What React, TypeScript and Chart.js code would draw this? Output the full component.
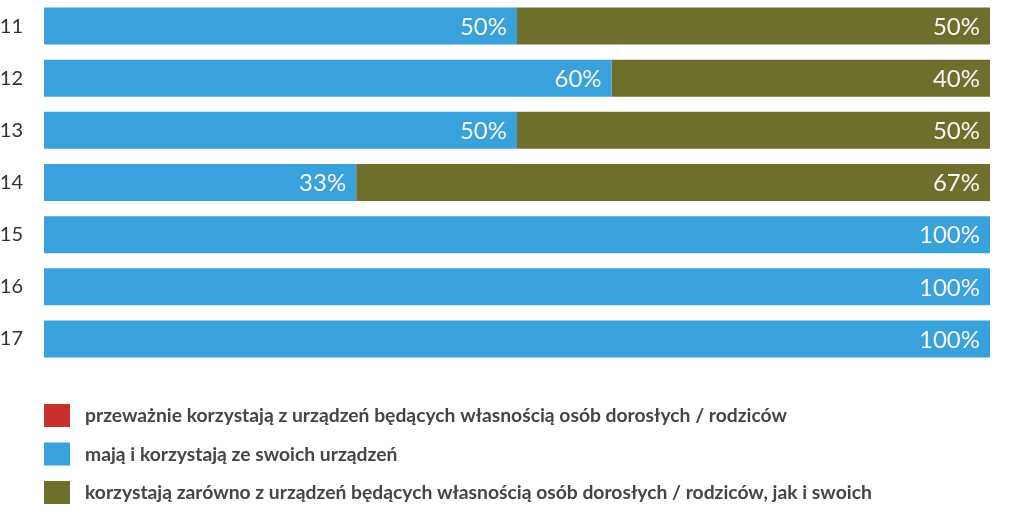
import React, { useEffect, useRef } from "react";
import { Chart, registerables } from "chart.js";

Chart.register(...registerables);

const categories = ["11", "12", "13", "14", "15", "16", "17"];
const mostlyAdultsDevices = [0, 0, 0, 0, 0, 0, 0];
const ownDevices = [50, 60, 50, 33, 100, 100, 100];
const bothDevices = [50, 40, 50, 67, 0, 0, 0];
const seriesLabels = [
  "przeważnie korzystają z urządzeń będących własnością osób dorosłych / rodziców",
  "mają i korzystają ze swoich urządzeń",
  "korzystają zarówno z urządzeń będących własnością osób dorosłych / rodziców, jak i swoich",
];
const seriesColors = ["#C8302E", "#39A1DC", "#6E6F2C"];

const valueLabelPlugin = {
  id: "valueLabels",
  afterDatasetsDraw(chart: any) {
    const ctx = chart.ctx;
    ctx.save();
    ctx.font = "24px Lato";
    ctx.fillStyle = "#F6F6F2";
    ctx.textAlign = "right";
    ctx.textBaseline = "middle";
    chart.data.datasets.forEach((ds: any, di: number) => {
      const meta = chart.getDatasetMeta(di);
      meta.data.forEach((bar: any, i: number) => {
        const v = ds.data[i];
        if (!v) return;
        ctx.fillText(v + "%", bar.x - 10, bar.y + 1);
      });
    });
    ctx.restore();
  },
};

const legendPlugin = {
  id: "customLegend",
  afterDraw(chart: any) {
    const ctx = chart.ctx;
    const area = chart.chartArea;
    ctx.save();
    ctx.font = "bold 19.3px Lato";
    ctx.textAlign = "left";
    ctx.textBaseline = "middle";
    chart.data.datasets.forEach((ds: any, i: number) => {
      const top = area.bottom + 39 + i * 38.5;
      ctx.fillStyle = ds.backgroundColor;
      ctx.fillRect(44, top, 26, 23);
      ctx.fillStyle = "#454545";
      ctx.fillText(ds.label, 85, top + 12);
    });
    ctx.restore();
  },
};

export default function App() {
  const ref = useRef<HTMLCanvasElement>(null);
  useEffect(() => {
    if (!ref.current) return;
    const chart = new Chart(ref.current, {
      type: "bar",
      data: {
        labels: categories,
        datasets: [
          { label: seriesLabels[0], data: mostlyAdultsDevices, backgroundColor: seriesColors[0] },
          { label: seriesLabels[1], data: ownDevices, backgroundColor: seriesColors[1] },
          { label: seriesLabels[2], data: bothDevices, backgroundColor: seriesColors[2] },
        ],
      },
      options: {
        indexAxis: "y",
        responsive: false,
        animation: false,
        devicePixelRatio: 1,
        layout: { padding: { top: 0, left: 0, right: 34, bottom: 157 } },
        datasets: { bar: { barPercentage: 0.71, categoryPercentage: 1 } },
        scales: {
          x: { stacked: true, min: 0, max: 100, display: false },
          y: {
            stacked: true,
            grid: { display: false, drawTicks: false },
            border: { display: false },
            ticks: { font: { family: "Lato", size: 20 }, color: "#333333", padding: 21 },
            afterFit: (scale: any) => {
              scale.width = 44;
              scale.paddingTop = 0;
              scale.paddingBottom = 0;
            },
          },
        },
        plugins: { legend: { display: false }, tooltip: { enabled: false } },
      },
      plugins: [valueLabelPlugin, legendPlugin],
    });
    return () => chart.destroy();
  }, []);
  return (
    <div style={{ position: "absolute", left: 0, top: 0, width: 1024, height: 522, background: "#fff" }}>
      <canvas ref={ref} width={1024} height={522} />
    </div>
  );
}
